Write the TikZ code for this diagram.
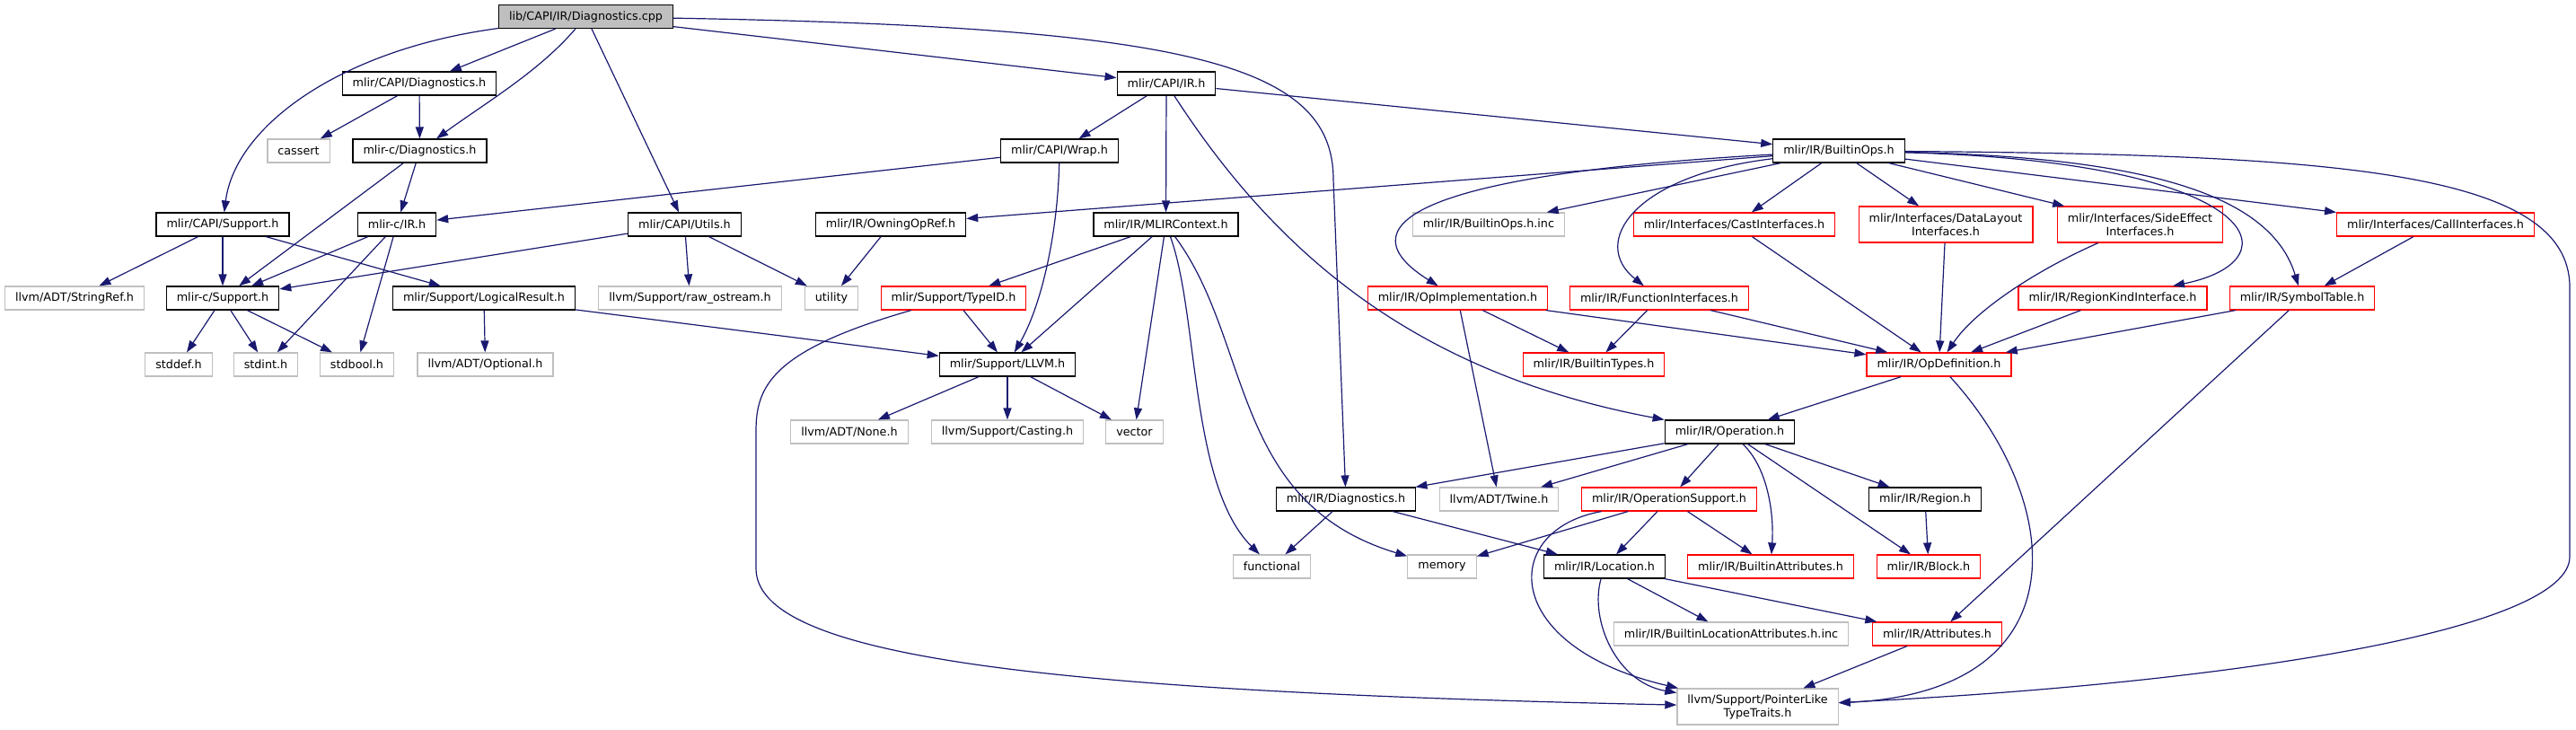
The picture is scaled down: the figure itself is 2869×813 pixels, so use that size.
\documentclass[tikz,border=0pt]{standalone}
\usepackage{fontspec}
\newfontfamily\dotfont{DejaVu Sans}
\usepackage{tikz}
\usetikzlibrary{arrows.meta}
\usepackage{xcolor}
\definecolor{edgeblue}{RGB}{25,25,112}
\definecolor{rootgray}{RGB}{191,191,191}
\definecolor{extgray}{RGB}{191,191,191}

\begin{document}
\begin{tikzpicture}[x=1pt, y=-1pt,
    file/.style={draw, line width=1.2pt, inner xsep=11.5pt, inner ysep=0pt, minimum height=26pt, align=center, font=\dotfont\fontsize{12.75}{15}\selectfont},
    docfile/.style={file, draw=black},
    truncfile/.style={file, draw=red},
    extfile/.style={file, draw=extgray},
    inc/.style={draw=edgeblue, line width=1.2pt, -{Triangle[length=13pt,width=9pt]}}]
    \useasboundingbox (0,0) rectangle (2869,813);

    \node[docfile, fill=rootgray] (root) at (652.5,18.5) {lib/CAPI/IR/Diagnostics.cpp};
    \node[docfile] (capidiag) at (467,93) {mlir/CAPI/Diagnostics.h};
    \node[docfile] (capiir) at (1299,93) {mlir/CAPI/IR.h};
    \node[extfile] (cassert) at (332.5,168) {cassert};
    \node[docfile] (cdiag) at (467.5,168) {mlir-c/Diagnostics.h};
    \node[docfile] (wrap) at (1180,168) {mlir/CAPI/Wrap.h};
    \node[docfile] (bops) at (2048,168) {mlir/IR/BuiltinOps.h};
    \node[docfile] (capisup) at (248,250) {mlir/CAPI/Support.h};
    \node[docfile] (cir) at (442,250) {mlir-c/IR.h};
    \node[docfile] (utils) at (762.5,250) {mlir/CAPI/Utils.h};
    \node[docfile] (owning) at (992,250) {mlir/IR/OwningOpRef.h};
    \node[docfile] (mlirctx) at (1298.5,250) {mlir/IR/MLIRContext.h};
    \node[extfile] (bopsinc) at (1658,250) {mlir/IR/BuiltinOps.h.inc};
    \node[truncfile] (castif) at (1931.5,250) {mlir/Interfaces/CastInterfaces.h};
    \node[truncfile, minimum height=40pt] (dlif) at (2167,250) {mlir/Interfaces/DataLayout\\Interfaces.h};
    \node[truncfile, minimum height=40pt] (seif) at (2383.5,250) {mlir/Interfaces/SideEffect\\Interfaces.h};
    \node[truncfile] (callif) at (2712.5,250) {mlir/Interfaces/CallInterfaces.h};
    \node[extfile] (stringref) at (83,332) {llvm/ADT/StringRef.h};
    \node[docfile] (csup) at (248,332) {mlir-c/Support.h};
    \node[docfile] (logres) at (539,332) {mlir/Support/LogicalResult.h};
    \node[extfile] (rawos) at (768.5,332) {llvm/Support/raw\_ostream.h};
    \node[extfile] (utility) at (926,332) {utility};
    \node[truncfile] (typeid) at (1062,332) {mlir/Support/TypeID.h};
    \node[truncfile] (opimpl) at (1623.5,332) {mlir/IR/OpImplementation.h};
    \node[truncfile] (funcif) at (1848,332) {mlir/IR/FunctionInterfaces.h};
    \node[truncfile] (regkind) at (2353,332) {mlir/IR/RegionKindInterface.h};
    \node[truncfile] (symtab) at (2564,332) {mlir/IR/SymbolTable.h};
    \node[extfile] (stddef) at (199,406) {stddef.h};
    \node[extfile] (stdint) at (296,406) {stdint.h};
    \node[extfile] (stdbool) at (397.5,406) {stdbool.h};
    \node[extfile] (optional) at (540.5,406) {llvm/ADT/Optional.h};
    \node[docfile] (llvm) at (1122,406) {mlir/Support/LLVM.h};
    \node[truncfile] (btypes) at (1775,406) {mlir/IR/BuiltinTypes.h};
    \node[truncfile] (opdef) at (2159.5,406) {mlir/IR/OpDefinition.h};
    \node[extfile] (adtnone) at (946,481) {llvm/ADT/None.h};
    \node[extfile] (casting) at (1122,481) {llvm/Support/Casting.h};
    \node[extfile] (vector) at (1263.5,481) {vector};
    \node[docfile] (operation) at (1926.5,481) {mlir/IR/Operation.h};
    \node[docfile] (irdiag) at (1499,556) {mlir/IR/Diagnostics.h};
    \node[extfile] (twine) at (1669.5,556) {llvm/ADT/Twine.h};
    \node[truncfile] (opsupport) at (1859,556) {mlir/IR/OperationSupport.h};
    \node[docfile] (region) at (2144,556) {mlir/IR/Region.h};
    \node[extfile] (functional) at (1416.5,631) {functional};
    \node[extfile] (memory) at (1606,631) {memory};
    \node[docfile] (location) at (1787,631) {mlir/IR/Location.h};
    \node[truncfile] (battrs) at (1972,631) {mlir/IR/BuiltinAttributes.h};
    \node[truncfile] (block) at (2148,631) {mlir/IR/Block.h};
    \node[extfile] (blocinc) at (1928,706) {mlir/IR/BuiltinLocationAttributes.h.inc};
    \node[truncfile] (attrs) at (2157.5,706) {mlir/IR/Attributes.h};
    \node[extfile, minimum height=40pt] (ptrlike) at (1957.5,787) {llvm/Support/PointerLike\\TypeTraits.h};

    % straight includes
    \foreach \a/\b in {root/capidiag, root/utils, root/capiir, capidiag/cassert, capidiag/cdiag,
        cdiag/cir, cdiag/csup, capisup/stringref, capisup/csup, capisup/logres, cir/csup, cir/stdint,
        cir/stdbool, csup/stddef, csup/stdint, csup/stdbool, utils/csup, utils/rawos, utils/utility,
        logres/optional, logres/llvm, capiir/wrap, capiir/mlirctx, capiir/bops, wrap/cir,
        owning/utility, bops/owning, mlirctx/typeid, mlirctx/llvm, mlirctx/vector, typeid/llvm,
        llvm/adtnone, llvm/casting, llvm/vector, bops/bopsinc, bops/castif, bops/dlif, bops/seif,
        bops/callif, castif/opdef, dlif/opdef, regkind/opdef, symtab/opdef, callif/symtab,
        symtab/attrs, opimpl/btypes, opimpl/opdef, opimpl/twine, funcif/btypes, funcif/opdef,
        opdef/operation, operation/irdiag, operation/twine, operation/opsupport, operation/block,
        operation/region, irdiag/functional, irdiag/location, opsupport/memory, opsupport/location,
        opsupport/battrs, region/block, location/blocinc, location/attrs, attrs/ptrlike}
        \draw[inc] (\a) -- (\b);

    % curved includes
    \draw[inc] (root) .. controls (380,55) and (262,140) .. (capisup);
    \draw[inc] (root) .. controls (600,80) and (540,115) .. (cdiag);
    \draw[inc] (root) .. controls (1320,30) and (1485,70) .. (1485,200) -- (irdiag);
    \draw[inc] (capiir) .. controls (1420,280) and (1574,415) .. (operation);
    \draw[inc] (wrap) .. controls (1178,260) and (1160,340) .. (llvm);
    \draw[inc] (mlirctx) .. controls (1335,350) and (1325,540) .. (functional);
    \draw[inc] (mlirctx) .. controls (1395,380) and (1370,560) .. (memory);
    \draw[inc] (typeid) .. controls (860,390) and (842,430) .. (842,480) -- (842,633) .. controls (842,730) and (1150,770) .. (ptrlike);
    \draw[inc] (bops) .. controls (1560,195) and (1500,255) .. (opimpl);
    \draw[inc] (bops) .. controls (1820,195) and (1770,270) .. (funcif);
    \draw[inc] (bops) .. controls (2520,180) and (2560,290) .. (regkind);
    \draw[inc] (bops) .. controls (2400,175) and (2530,220) .. (symtab);
    \draw[inc] (bops) .. controls (2600,172) and (2862,190) .. (2862,320) -- (2862,620) .. controls (2862,700) and (2500,760) .. (ptrlike);
    \draw[inc] (seif) .. controls (2270,300) and (2200,345) .. (opdef);
    \draw[inc] (opdef) .. controls (2300,560) and (2320,770) .. (ptrlike);
    \draw[inc] (operation) .. controls (1968,520) and (1976,570) .. (battrs);
    \draw[inc] (opsupport) .. controls (1670,590) and (1670,720) .. (ptrlike);
    \draw[inc] (location) .. controls (1770,690) and (1800,760) .. (ptrlike);
\end{tikzpicture}
\end{document}
